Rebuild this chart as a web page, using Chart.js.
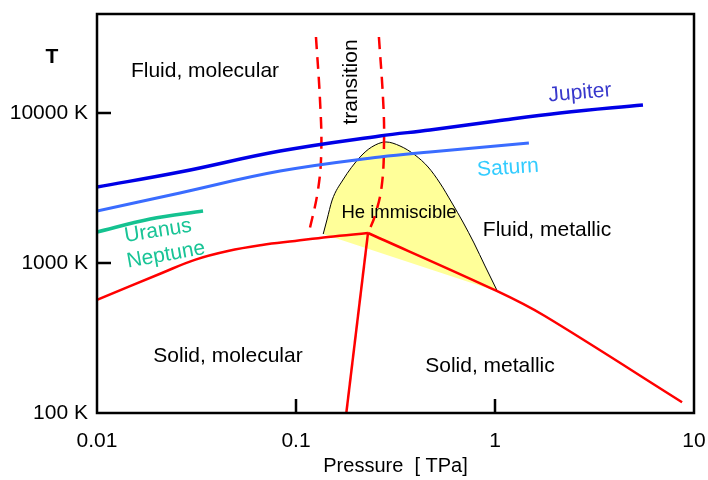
<!DOCTYPE html>
<html>
<head>
<meta charset="utf-8">
<script src="https://cdn.jsdelivr.net/npm/chart.js@4/dist/chart.umd.min.js"></script>
<style>
  body { margin: 0; background: #fff; }
</style>
</head>
<body>
<canvas id="phaseChart" width="708" height="480"></canvas>
<script>
// tick values
const pressureTicks = [0.01, 0.1, 1, 10];
const tempTicks = [100, 1000, 10000];

// planet isentropes (pressure TPa, temperature K)
const jupiterP = [0.01, 0.0261, 0.0832, 0.264, 0.471, 1.02, 2.12, 5.54];
const jupiterT = [3210, 4040, 5580, 7030, 7700, 8850, 10000, 11300];
const saturnP = [0.01, 0.0261, 0.0832, 0.264, 0.471, 1.48];
const saturnT = [2220, 2930, 4100, 5090, 5500, 6310];
const uranusP = [0.01, 0.0185, 0.0341];
const uranusT = [1610, 1965, 2220];

// melting line, molecular side and metallic side
const meltMolP = [0.01, 0.0212, 0.031, 0.0455, 0.0675, 0.0989, 0.145, 0.230];
const meltMolT = [567, 858, 1050, 1202, 1318, 1402, 1490, 1585];
const meltMetP = [0.230, 1.02, 1.78, 8.71];
const meltMetT = [1585, 651, 443, 118];
// solid molecular / solid metallic boundary
const solidP = [0.230, 0.179];
const solidT = [1585, 100];

// molecular -> metallic transition (dashed)
const transLeftP = [0.126, 0.132, 0.134, 0.129, 0.116];
const transLeftT = [32100, 12200, 5670, 3070, 1585];
const transRightP = [0.261, 0.274, 0.277, 0.270, 0.250, 0.230];
const transRightT = [32100, 12200, 6610, 3310, 2090, 1585];

// helium immiscibility dome and its lower edge
const domeP = [0.137, 0.143, 0.152, 0.172, 0.210, 0.240, 0.283, 0.333, 0.396, 0.461, 0.529, 0.608, 0.690, 0.784, 0.891, 1.03];
const domeT = [1560, 1935, 2630, 3575, 5090, 5930, 6410, 6030, 5250, 4365, 3410, 2510, 1875, 1360, 955, 645];
const domeBaseP = [0.137, 1.03];
const domeBaseT = [1560, 645];

const pts = (xs, ys) => xs.map((x, i) => ({ x: x, y: ys[i] }));
const FONT = '"Liberation Sans", Arial, sans-serif';

const line = (data, color, width, extra) => Object.assign({
    data: data,
    showLine: true,
    borderColor: color,
    borderWidth: width,
    pointRadius: 0,
    cubicInterpolationMode: 'monotone',
    fill: false
}, extra || {});

const smooth = { cubicInterpolationMode: 'default', tension: 0.4 };

// no extra room for edge labels, the layout padding sets the plot box
const noPad = s => { s.paddingTop = s.paddingBottom = s.paddingLeft = s.paddingRight = 0; };

// text written on the diagram
const notes = [
    { text: 'Fluid, molecular', x: 205, y: 71 },
    { text: 'Solid, molecular', x: 228, y: 356 },
    { text: 'Fluid, metallic', x: 547, y: 230 },
    { text: 'Solid, metallic', x: 490, y: 366 },
    { text: 'He immiscible', x: 399, y: 213, size: 18.5 },
    { text: 'transition', x: 351, y: 82, rot: -90 },
    { text: 'Jupiter', x: 580, y: 93, rot: -5, color: '#3838cc' },
    { text: 'Saturn', x: 508, y: 168, rot: -4, color: '#33ccff' },
    { text: 'Uranus', x: 158, y: 231, rot: -9, color: '#19c496' },
    { text: 'Neptune', x: 166, y: 255, rot: -10, color: '#19c496' },
    { text: 'T', x: 52, y: 57, bold: true }
];

const framePlugin = {
    id: 'frame',
    afterDatasetsDraw(chart) {
        const { ctx, chartArea: a, scales } = chart;
        ctx.save();
        ctx.strokeStyle = '#000';
        ctx.lineWidth = 2.5;
        ctx.strokeRect(a.left, a.top, a.right - a.left, a.bottom - a.top);
        ctx.beginPath();
        // inward tick marks
        pressureTicks.slice(1, -1).forEach(v => {
            const px = scales.x.getPixelForValue(v);
            ctx.moveTo(px, a.bottom);
            ctx.lineTo(px, a.bottom - 14);
        });
        tempTicks.slice(1).forEach(v => {
            const py = scales.y.getPixelForValue(v);
            ctx.moveTo(a.left, py);
            ctx.lineTo(a.left + 14, py);
        });
        ctx.stroke();

        ctx.textAlign = 'center';
        ctx.textBaseline = 'middle';
        notes.forEach(n => {
            ctx.save();
            ctx.translate(n.x, n.y);
            ctx.rotate((n.rot || 0) * Math.PI / 180);
            ctx.fillStyle = n.color || '#000';
            ctx.font = (n.bold ? 'bold ' : '') + (n.size || 21) + 'px ' + FONT;
            ctx.fillText(n.text, 0, 0);
            ctx.restore();
        });
        ctx.restore();
    }
};

new Chart(document.getElementById('phaseChart'), {
    type: 'scatter',
    data: {
        datasets: [
            line(pts(jupiterP, jupiterT), '#0000e6', 3.5, smooth),
            line(pts(saturnP, saturnT), '#3a6cff', 3, smooth),
            line(pts(uranusP, uranusT), '#14c290', 3.5),
            line(pts(meltMolP, meltMolT), '#ff0000', 2.5, smooth),
            line(pts(meltMetP, meltMetT), '#ff0000', 2.5, { cubicInterpolationMode: 'default', tension: 0.3 }),
            line(pts(solidP, solidT), '#ff0000', 2.5),
            line(pts(transLeftP, transLeftT), '#ff0000', 2.5, Object.assign({ borderDash: [12, 8] }, smooth)),
            line(pts(transRightP, transRightT), '#ff0000', 2.5, Object.assign({ borderDash: [12, 8] }, smooth)),
            line(pts(domeP, domeT), '#000', 1, { fill: '+1', backgroundColor: '#ffff99' }),
            line(pts(domeBaseP, domeBaseT), 'rgba(0,0,0,0)', 0)
        ]
    },
    options: {
        responsive: false,
        animation: false,
        layout: { padding: { top: 14, right: 14, left: 0, bottom: 0 } },
        plugins: {
            legend: { display: false },
            tooltip: { enabled: false },
            filler: { drawTime: 'beforeDatasetsDraw' }
        },
        scales: {
            x: {
                type: 'logarithmic',
                min: 0.01,
                max: 10,
                grid: { display: false, drawTicks: false },
                border: { display: false },
                afterBuildTicks: s => { s.ticks = pressureTicks.map(v => ({ value: v })); },
                afterFit: s => { s.height = 67; noPad(s); },
                ticks: {
                    autoSkip: false,
                    maxRotation: 0,
                    padding: 16,
                    color: '#000',
                    font: { family: FONT, size: 21 },
                    callback: v => String(v)
                },
                title: {
                    display: true,
                    text: 'Pressure  [ TPa]',
                    color: '#000',
                    font: { family: FONT, size: 20 },
                    padding: { top: 0, bottom: 2 }
                }
            },
            y: {
                type: 'logarithmic',
                min: 100,
                max: 45700,
                grid: { display: false, drawTicks: false },
                border: { display: false },
                afterBuildTicks: s => { s.ticks = tempTicks.map(v => ({ value: v })); },
                afterFit: s => { s.width = 97; noPad(s); },
                ticks: {
                    autoSkip: false,
                    padding: 9,
                    color: '#000',
                    font: { family: FONT, size: 21 },
                    callback: v => v + ' K'
                }
            }
        }
    },
    plugins: [framePlugin]
});
</script>
</body>
</html>
